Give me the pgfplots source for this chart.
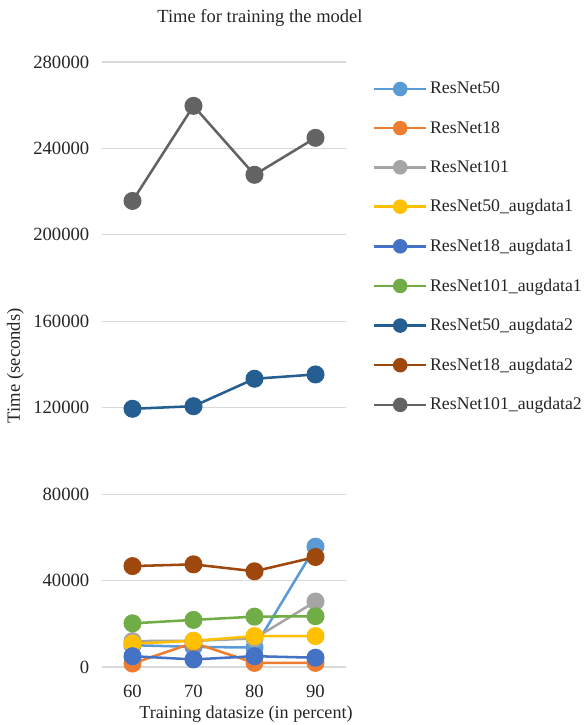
\documentclass[border=0pt]{standalone}
\usepackage{pgfplots}
\pgfplotsset{compat=1.18}
\usepackage{pgfplotstable}
\usepackage{fontspec}
\setmainfont{Liberation Serif}
\definecolor{cA}{HTML}{5B9BD5}
\definecolor{cB}{HTML}{ED7D31}
\definecolor{cC}{HTML}{A5A5A5}
\definecolor{cD}{HTML}{FFC000}
\definecolor{cE}{HTML}{4472C4}
\definecolor{cF}{HTML}{70AD47}
\definecolor{cG}{HTML}{255E91}
\definecolor{cH}{HTML}{9E480E}
\definecolor{cI}{HTML}{636363}
\definecolor{gridc}{HTML}{D9D9D9}
\pgfplotstableread{
x r50 r18 r101 a50 a18 a101 b50 b18 b101
0 10100 1600 12000 10800 5000 20200 119500 46700 215700
1 9300 11200 12100 12100 3500 21800 120700 47500 259700
2 9000 1900 13200 14300 5000 23300 133400 44300 227800
3 55700 1900 30300 14300 4300 23500 135400 50900 244900
}\data
\begin{document}
\begin{tikzpicture}
\useasboundingbox (-76.5pt,-43.5pt) rectangle (362.25pt,500.25pt);
\begin{axis}[
  at={(0,0)}, anchor=south west,
  scale only axis,
  width=183pt, height=453.75pt,
  xmin=-0.5, xmax=3.5,
  ymin=0, ymax=280000,
  ytick={0,40000,...,280000},
  xtick={0,1,2,3},
  xticklabels={60,70,80,90},
  ymajorgrids, grid style={gridc, line width=0.8pt},
  axis line style={draw=none},
  major tick length=0pt,
  /pgf/number format/assume math mode=true,
  /pgf/number format/fixed,
  /pgf/number format/set thousands separator={},
  scaled y ticks=false,
  tick label style={font=\fontsize{14}{16}\selectfont, text=black!85},
  yticklabel style={xshift=-6pt},
  xticklabel style={yshift=-10pt},
  every axis plot/.append style={line width=1.9pt, mark=*, mark size=5.8pt},
  legend style={at={(1.093,0.976)}, anchor=north west, draw=none,
    font=\fontsize{13.3}{15}\selectfont, text=black!85, row sep=15pt,
    legend cell align=left},
  legend image code/.code={\draw[mark repeat=2,mark phase=2,#1,mark size=4.5pt] plot coordinates {(0pt,0pt)(19.5pt,0pt)(39pt,0pt)};},
]
\addplot[color=cA] table[x=x,y=r50]{\data};
\addlegendentry{ResNet50}
\addplot[color=cB] table[x=x,y=r18]{\data};
\addlegendentry{ResNet18}
\addplot[color=cC] table[x=x,y=r101]{\data};
\addlegendentry{ResNet101}
\addplot[color=cD] table[x=x,y=a50]{\data};
\addlegendentry{ResNet50\_augdata1}
\addplot[color=cE] table[x=x,y=a18]{\data};
\addlegendentry{ResNet18\_augdata1}
\addplot[color=cF] table[x=x,y=a101]{\data};
\addlegendentry{ResNet101\_augdata1}
\addplot[color=cG] table[x=x,y=b50]{\data};
\addlegendentry{ResNet50\_augdata2}
\addplot[color=cH] table[x=x,y=b18]{\data};
\addlegendentry{ResNet18\_augdata2}
\addplot[color=cI] table[x=x,y=b101]{\data};
\addlegendentry{ResNet101\_augdata2}
\end{axis}
\node[font=\fontsize{13.9}{16}\selectfont, text=black!85] at (118.5pt,486.75pt) {Time for training the model};
\node[font=\fontsize{14}{16}\selectfont, text=black!85, rotate=90] at (-65pt,226pt) {Time (seconds)};
\node[font=\fontsize{13.6}{16}\selectfont, text=black!85] at (108pt,-35pt) {Training datasize (in percent)};
\end{tikzpicture}
\end{document}
